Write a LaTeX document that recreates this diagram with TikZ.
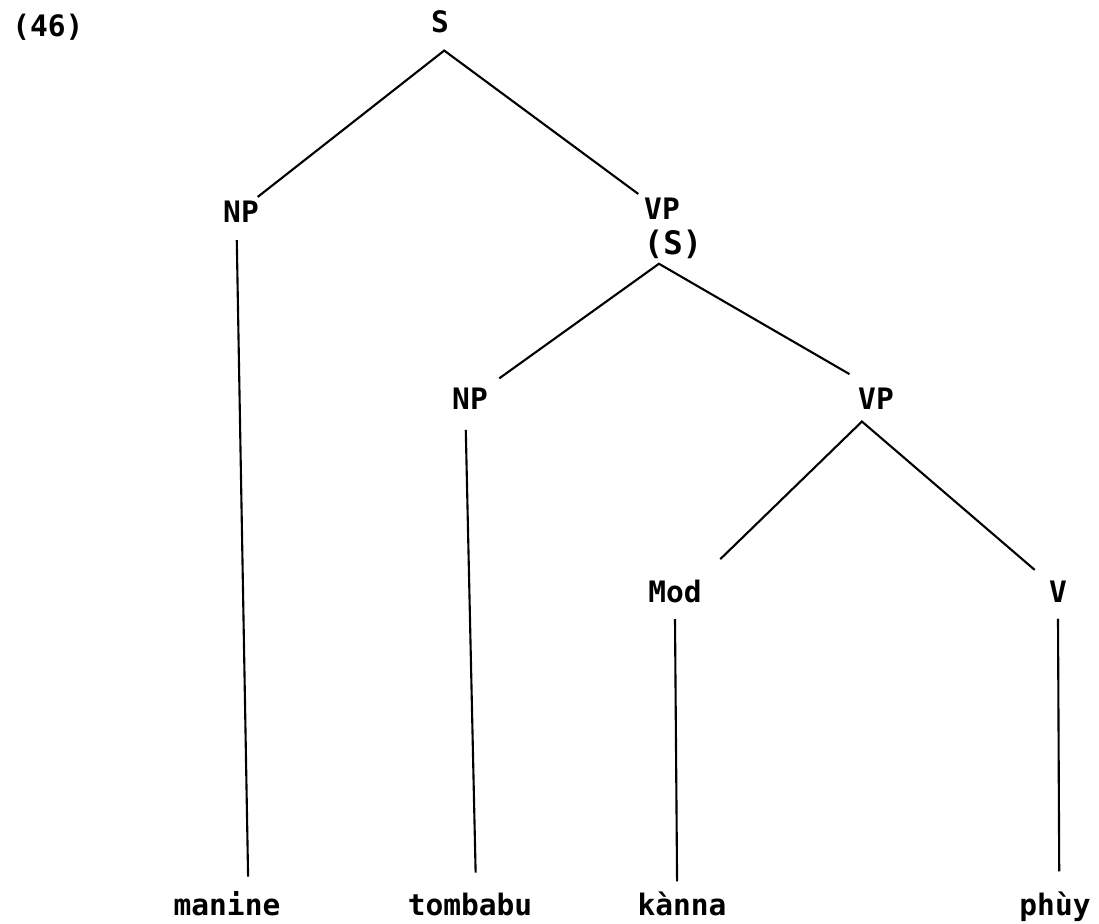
\documentclass[tikz,border=0pt]{standalone}
\usepackage{fontspec}
\newfontfamily\treefont{DejaVu Sans Mono}
\usepackage{tikz}
\tikzset{
    tnode/.style = {font=\treefont\bfseries\fontsize{21}{25}\selectfont, inner sep=0pt, anchor=base},
    cat/.style = {tnode},
    word/.style = {tnode},
    branch/.style = {line width=1.5pt}
}

\begin{document}
\begin{tikzpicture}[x=0.025cm, y=-0.025cm]
    \useasboundingbox (0,0) rectangle (1099,924);
    \node [tnode, anchor=base west] (num) at (12,37) {(46)};
    % categories
    \node [cat] (s) at (440,33) {S};
    \node [cat] (np1) at (241,223) {NP};
    \node [cat] (vp) at (662,220) {VP};
    \node [cat, font=\treefont\bfseries\fontsize{23}{27}\selectfont] (vps) at (673,255) {(S)};
    \node [cat] (np2) at (470,410) {NP};
    \node [cat] (vp2) at (876,410) {VP};
    \node [cat] (mod) at (675,603) {Mod};
    \node [cat] (v) at (1058,603) {V};
    % words
    \node [word] (manine) at (227,915) {manine};
    \node [word] (tombabu) at (470,915) {tombabu};
    \node [word] (kanna) at (682,915) {kànna};
    \node [word] (phuy) at (1055,915) {phùy};
    % branches
    \draw [branch] ([shift={(-1pt,3pt)}]np1.north east) -- ([shift={(3pt,-12pt)}]s.south)
        -- ([shift={(-4pt,3pt)}]vp.north west);
    \draw [branch] ([shift={(-3pt,-12pt)}]np1.south) -- ([shift={(15pt,10pt)}]manine.north);
    \draw [branch] ([shift={(8pt,7pt)}]np2.north east) -- ([shift={(-10pt,-3pt)}]vps.south)
        -- ([shift={(-6pt,10pt)}]vp2.north west);
    \draw [branch] ([shift={(-3pt,-14pt)}]np2.south) -- ([shift={(4pt,14pt)}]tombabu.north);
    \draw [branch] ([shift={(13pt,15pt)}]mod.north east) -- ([shift={(-10pt,-8pt)}]vp2.south)
        -- ([shift={(-10pt,8pt)}]v.north west);
    \draw [branch] ([yshift=-11pt]mod.south) -- ([shift={(-3.5pt,7pt)}]kanna.north);
    \draw [branch] ([yshift=-11pt]v.south) -- ([shift={(3pt,14pt)}]phuy.north);
\end{tikzpicture}
\end{document}
